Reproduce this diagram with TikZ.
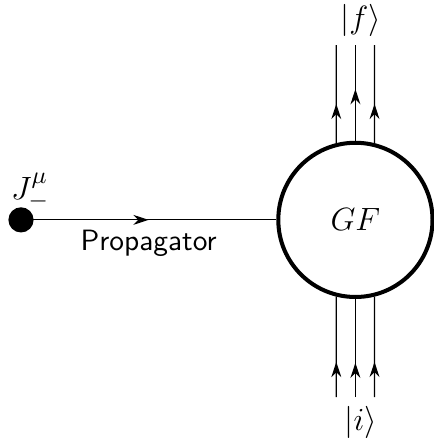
\documentclass[tikz,border=0pt,11pt]{standalone}
\usetikzlibrary{arrows.meta, positioning, calc, decorations.markings}

\begin{document}
\begin{tikzpicture}[
    node distance=0.7cm,
    source/.style={circle, fill=black, inner sep=0pt, minimum size=0.33cm},
    blob/.style={circle, draw, line width=1.5pt, minimum size=2.02cm, inner sep=0pt,
        font=\fontsize{13}{15}\selectfont},
    leg/.style={line width=0.45pt},
    state/.style={inner sep=0pt, font=\fontsize{13}{15}\selectfont},
    midarrow/.style={postaction={decorate}, decoration={markings,
        mark=at position #1 with {\arrow{Stealth[length=2mm, width=1.3mm]}}}}
]
\useasboundingbox (-0.275,-2.87) rectangle (5.40,2.88);

\node[source] (J) at (0,0) {};
\node[state, above=-0.04cm of J, xshift=0.12cm] (Jlab) {$J^\mu_-$};
\node[blob] (GF) at (4.38,0) {$GF$};

% propagator
\draw[leg, midarrow=0.5] (J.center) -- node[below, font=\sffamily] (prop) {Propagator} (GF);

% outgoing legs
\coordinate (f1) at ($(GF.center)+(-0.25,2.29)$);
\coordinate (f2) at ($(GF.center)+(0,2.29)$);
\coordinate (f3) at ($(GF.center)+(0.25,2.29)$);
\draw[leg, midarrow=0.40] (GF.104) -- (f1);
\draw[leg, midarrow=0.54] (GF.90) -- (f2);
\draw[leg, midarrow=0.40] (GF.76) -- (f3);
\node[state, above=0.11cm of f2, xshift=0.07cm] (fin) {$|f\rangle$};

% incoming legs
\coordinate (i1) at ($(GF.center)+(-0.25,-2.32)$);
\coordinate (i2) at ($(GF.center)+(0,-2.32)$);
\coordinate (i3) at ($(GF.center)+(0.25,-2.32)$);
\draw[leg, midarrow=0.35] (i1) -- (GF.-104);
\draw[leg, midarrow=0.35] (i2) -- (GF.-90);
\draw[leg, midarrow=0.35] (i3) -- (GF.-76);
\node[state, below=0.12cm of i2, xshift=0.07cm] (ini) {$|i\rangle$};
\end{tikzpicture}
\end{document}
